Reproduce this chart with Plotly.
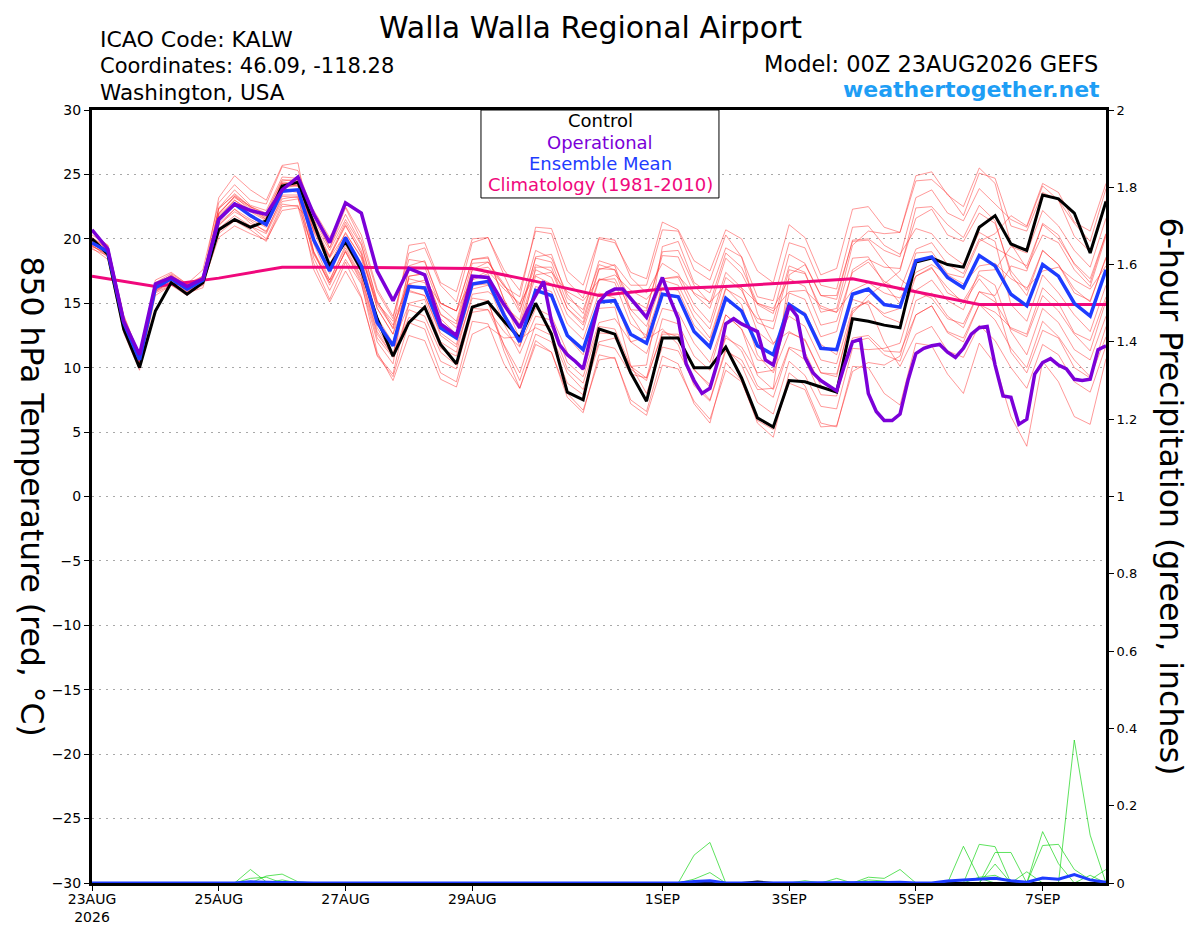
import pandas as pd
import plotly.graph_objects as go

# 6-hourly forecast times, 23AUG2026 00Z -> 08SEP2026 00Z
times = pd.date_range("2026-08-23 00:00", periods=65, freq="6h")

# operational run: 6-hourly to 162 h, then 3-hourly
op_hours = list(range(0, 162, 6)) + list(range(162, 385, 3))
op_times = pd.Timestamp("2026-08-23 00:00") + pd.to_timedelta(op_hours, unit="h")

clim_days = pd.date_range("2026-08-23", periods=17, freq="D")

# 850 hPa temperature (C)
control = [20.0, 18.8, 13.0, 10.0, 14.4, 16.6, 15.7, 16.6, 20.7, 21.5, 20.9, 21.4, 24.1, 24.4, 21.2, 17.9,
           19.8, 17.6, 13.8, 10.9, 13.5, 14.7, 11.8, 10.3, 14.7, 15.1, 13.6, 12.3, 15.0, 12.6, 8.1, 7.5,
           13.0, 12.6, 9.6, 7.4, 12.3, 12.3, 10.0, 10.0, 11.6, 9.2, 6.1, 5.4, 9.0, 8.9, 8.5, 8.1,
           13.8, 13.6, 13.3, 13.1, 18.2, 18.5, 18.0, 17.8, 20.9, 21.8, 19.6, 19.1, 23.4, 23.1, 22.0, 18.9, 22.9]

ens_mean = [19.7, 19.0, 13.5, 10.6, 16.2, 16.9, 16.1, 16.8, 21.5, 22.7, 21.8, 21.1, 23.7, 23.8, 19.9, 17.5,
            20.1, 17.9, 13.5, 11.7, 16.3, 16.2, 13.1, 12.3, 16.5, 16.7, 14.1, 12.0, 16.0, 15.6, 12.5, 11.4,
            15.1, 15.2, 12.6, 11.9, 15.7, 15.5, 12.8, 11.6, 15.4, 14.4, 11.7, 11.0, 14.9, 14.1, 11.5, 11.4,
            15.7, 16.1, 14.9, 14.7, 18.3, 18.6, 17.0, 16.2, 18.7, 17.9, 15.7, 14.8, 18.0, 17.1, 15.0, 14.0, 17.6]

operational = [20.7, 19.2, 13.6, 11.0, 16.5, 17.0, 16.3, 16.9, 21.5, 22.7, 22.2, 21.9, 23.8, 24.8, 21.9, 19.7,
               22.8, 22.0, 17.5, 15.2, 17.7, 17.2, 13.4, 12.5, 17.1, 17.0, 14.9,
               13.1, 14.5, 15.6, 16.7, 13.6, 11.8, 11.0, 10.5, 9.9, 12.5, 15.1, 15.8, 16.1, 16.1, 15.4, 14.6,
               13.9, 15.5, 17.0, 15.3, 13.8, 10.3, 9.0, 8.0, 8.4, 10.5, 13.4, 13.8, 13.4, 13.1, 12.8, 10.6,
               10.2, 12.5, 14.8, 14.0, 10.8, 9.6, 9.0, 8.6, 8.2, 10.2, 12.0, 12.2, 8.0, 6.6, 5.9, 5.9,
               6.4, 9.0, 11.1, 11.5, 11.7, 11.8, 11.2, 10.8, 11.5, 12.6, 13.1, 13.2, 10.2, 7.8, 7.7, 5.6,
               6.0, 9.5, 10.4, 10.7, 10.2, 9.9, 9.1, 9.0, 9.1, 11.4, 11.7]

climatology = [17.1, 16.3, 16.95, 17.8, 17.8, 17.75, 17.7, 16.7, 15.6, 16.1, 16.3, 16.6, 16.9, 15.9, 14.9, 14.9, 14.9]

m01 = [20.5, 19.5, 14.1, 10.9, 16.8, 17.4, 16.5, 17.6, 22.8, 24.2, 23.0, 22.7, 25.6, 25.3, 21.9, 19.3,
       22.4, 19.9, 15.9, 13.8, 18.9, 19.3, 16.4, 15.1, 19.7, 20.1, 17.6, 16.0, 20.6, 20.4, 16.7, 15.4,
       20.0, 19.7, 17.4, 16.9, 21.3, 20.7, 18.3, 17.5, 20.7, 20.0, 17.5, 16.6, 21.1, 20.1, 17.2, 17.7,
       22.3, 22.5, 20.9, 20.5, 24.5, 24.6, 23.5, 21.8, 25.1, 24.7, 21.0, 20.6, 23.6, 23.0, 20.2, 19.0, 23.0]
m02 = [19.3, 18.4, 12.7, 9.8, 15.6, 16.4, 15.8, 16.2, 20.6, 21.5, 21.0, 20.0, 22.7, 22.5, 18.1, 15.3,
       18.2, 15.5, 10.9, 9.3, 13.5, 13.0, 9.6, 8.9, 13.6, 13.4, 10.3, 8.4, 12.1, 11.2, 7.7, 6.5,
       11.0, 10.7, 7.5, 6.6, 10.9, 10.3, 7.2, 5.7, 10.4, 9.0, 5.7, 4.6, 9.6, 8.6, 5.7, 5.4,
       10.1, 10.0, 8.0, 7.1, 11.9, 11.7, 9.5, 8.0, 11.9, 10.3, 6.2, 3.9, 10.5, 8.9, 6.2, 5.6, 10.7]
m03 = [20.1, 19.2, 13.9, 10.8, 16.6, 17.1, 16.5, 17.0, 22.4, 23.4, 22.5, 22.0, 24.6, 24.5, 20.8, 18.6,
       21.0, 18.9, 14.6, 12.6, 17.6, 17.8, 14.7, 13.6, 18.1, 18.2, 16.5, 14.3, 18.5, 18.2, 15.0, 13.8,
       17.7, 17.6, 15.3, 14.6, 18.7, 18.6, 15.7, 14.6, 18.5, 17.3, 14.9, 14.2, 18.8, 18.1, 15.6, 15.3,
       19.9, 20.0, 19.1, 18.6, 23.2, 23.8, 22.0, 21.4, 23.9, 22.7, 21.5, 20.9, 24.1, 23.0, 21.2, 19.8, 23.9]
m04 = [19.5, 18.6, 13.1, 10.1, 15.9, 16.7, 15.7, 16.4, 21.1, 22.1, 21.4, 20.5, 23.3, 23.2, 18.8, 16.6,
       19.0, 16.8, 12.3, 10.8, 14.5, 14.0, 11.2, 10.2, 14.6, 14.5, 11.8, 9.6, 13.4, 13.2, 9.9, 8.8,
       12.7, 12.6, 9.9, 9.0, 12.8, 12.4, 9.9, 8.5, 12.5, 11.3, 8.6, 7.7, 11.5, 10.6, 7.9, 7.8,
       12.3, 12.5, 11.3, 11.2, 14.1, 14.8, 12.8, 12.3, 14.9, 13.7, 11.5, 10.0, 13.6, 12.4, 10.6, 9.3, 13.2]
m05 = [19.9, 18.9, 13.6, 10.4, 16.0, 17.0, 16.3, 16.7, 21.9, 23.3, 22.2, 21.7, 24.3, 24.1, 22.2, 20.1,
       22.5, 20.3, 16.1, 14.0, 18.4, 18.2, 15.0, 14.4, 18.4, 18.6, 15.3, 13.2, 17.1, 16.5, 13.4, 12.2,
       15.8, 15.4, 12.0, 11.1, 14.6, 14.3, 11.9, 10.4, 14.1, 13.0, 9.4, 8.3, 11.6, 11.2, 8.6, 8.1,
       12.0, 12.3, 11.0, 10.5, 14.1, 14.8, 12.7, 12.0, 14.9, 14.3, 13.1, 12.6, 16.2, 15.0, 12.7, 12.1, 15.5]
m06 = [20.0, 19.2, 13.8, 10.7, 16.5, 17.0, 16.4, 16.9, 21.0, 22.3, 21.2, 20.6, 23.1, 23.3, 17.6, 15.1,
       17.5, 15.4, 11.0, 9.5, 15.0, 15.3, 12.0, 11.2, 15.7, 15.9, 15.0, 13.4, 17.6, 17.0, 14.1, 12.9,
       16.8, 16.9, 14.5, 14.4, 19.0, 19.1, 16.4, 15.0, 18.9, 17.8, 15.0, 14.6, 16.9, 16.3, 13.3, 13.6,
       17.4, 18.2, 16.7, 16.0, 19.2, 19.7, 18.0, 17.3, 20.0, 19.3, 18.6, 17.9, 21.1, 20.0, 18.1, 16.9, 20.4]
m07 = [19.4, 18.9, 13.2, 10.4, 16.0, 16.6, 15.9, 16.6, 22.4, 23.8, 22.6, 22.2, 24.8, 24.7, 20.5, 18.0,
       20.5, 18.5, 13.9, 11.9, 14.9, 14.6, 11.5, 10.9, 14.8, 15.1, 11.7, 9.0, 12.6, 12.0, 8.8, 7.9,
       11.8, 11.5, 9.5, 9.2, 13.8, 13.4, 10.9, 9.8, 14.1, 13.0, 10.6, 10.4, 15.8, 15.3, 12.4, 12.8,
       17.6, 18.4, 17.8, 17.7, 21.6, 22.3, 20.3, 19.8, 22.0, 21.2, 17.5, 16.0, 19.1, 18.0, 15.8, 15.2, 18.5]
m08 = [20.3, 19.5, 14.0, 11.0, 16.6, 17.3, 16.5, 17.1, 21.4, 22.8, 21.7, 21.0, 23.8, 23.6, 18.5, 16.0,
       18.4, 16.5, 12.0, 10.3, 17.1, 17.3, 14.2, 13.1, 17.6, 17.8, 16.4, 14.8, 19.1, 18.5, 15.7, 14.2,
       18.3, 17.9, 14.5, 13.2, 16.8, 16.4, 13.9, 12.3, 16.2, 14.9, 11.0, 9.6, 12.7, 12.2, 9.6, 9.3,
       14.4, 15.2, 14.0, 13.5, 17.1, 17.8, 15.8, 15.2, 17.2, 16.4, 12.8, 11.0, 14.6, 13.5, 11.4, 10.6, 14.0]
m09 = [19.2, 18.7, 13.0, 10.2, 15.8, 16.4, 15.6, 16.5, 20.1, 21.0, 20.4, 19.9, 22.2, 22.4, 21.2, 19.1,
       21.5, 19.5, 15.2, 13.0, 16.9, 16.6, 13.8, 12.6, 16.8, 17.3, 14.4, 11.7, 14.6, 14.0, 11.2, 9.8,
       13.5, 13.8, 12.0, 12.4, 19.4, 19.8, 16.6, 15.8, 19.3, 18.6, 15.5, 15.2, 19.7, 19.3, 16.4, 16.1,
       20.9, 21.0, 19.5, 18.8, 20.8, 20.4, 18.9, 18.0, 20.5, 19.8, 14.9, 13.6, 17.2, 15.8, 14.1, 12.8, 16.4]
m10 = [19.9, 19.1, 13.6, 10.8, 16.3, 17.1, 16.2, 16.9, 23.2, 24.9, 23.8, 23.0, 25.7, 25.9, 19.6, 16.8,
       19.5, 17.4, 13.1, 11.0, 13.9, 13.5, 10.5, 9.9, 14.3, 14.5, 12.8, 11.6, 16.3, 15.9, 12.4, 11.0,
       14.6, 14.7, 10.2, 8.0, 11.6, 11.3, 8.9, 7.5, 11.5, 10.2, 7.3, 6.4, 10.5, 9.4, 7.0, 6.8,
       11.5, 11.4, 11.5, 11.9, 16.0, 16.8, 15.2, 14.5, 17.5, 17.6, 19.4, 18.9, 22.2, 21.0, 19.1, 17.8, 21.6]
m11 = [19.6, 18.9, 13.4, 10.5, 16.1, 16.8, 16.0, 16.7, 21.8, 23.0, 22.1, 21.4, 24.0, 24.1, 21.1, 18.7,
       21.3, 19.1, 14.9, 13.1, 19.5, 19.7, 16.6, 15.9, 20.0, 20.1, 17.2, 14.5, 18.0, 17.5, 14.6, 13.3,
       16.9, 16.6, 13.4, 12.5, 16.2, 16.0, 13.3, 12.0, 16.1, 15.4, 13.8, 13.6, 17.9, 17.4, 14.3, 14.6,
       19.5, 20.6, 20.4, 20.5, 24.9, 25.2, 23.4, 22.5, 25.5, 24.3, 19.6, 17.7, 20.3, 19.7, 17.6, 16.3, 20.2]
m12 = [20.1, 19.3, 13.8, 10.9, 16.4, 17.2, 16.4, 17.1, 20.4, 21.4, 20.7, 19.8, 22.5, 22.6, 19.0, 16.8,
       19.3, 17.1, 12.8, 10.9, 16.5, 16.0, 13.0, 12.4, 16.4, 16.5, 13.4, 11.1, 14.0, 13.7, 10.4, 9.3,
       13.2, 13.0, 10.1, 9.2, 12.6, 12.6, 9.8, 8.7, 12.3, 11.6, 9.6, 9.8, 14.5, 14.3, 11.8, 11.0,
       15.3, 14.9, 12.0, 10.1, 12.6, 13.2, 11.3, 10.8, 13.3, 12.1, 10.0, 8.4, 11.8, 11.0, 8.9, 8.1, 11.7]
m13 = [19.4, 18.8, 13.2, 10.2, 15.9, 16.5, 15.8, 16.6, 22.3, 23.5, 22.5, 21.9, 24.5, 24.6, 20.0, 17.3,
       20.2, 18.0, 13.4, 11.9, 17.1, 17.3, 14.1, 13.4, 17.6, 18.2, 16.3, 15.5, 20.9, 20.8, 17.5, 16.4,
       20.1, 19.9, 17.0, 15.8, 18.1, 17.3, 14.9, 13.5, 17.4, 16.2, 12.8, 11.8, 14.0, 13.2, 10.6, 10.3,
       14.6, 15.1, 14.2, 14.6, 18.9, 19.0, 17.3, 17.0, 19.8, 20.4, 21.8, 21.0, 24.3, 23.6, 21.3, 20.6, 24.3]
m14 = [19.8, 19.0, 13.5, 10.5, 16.1, 16.9, 16.2, 16.7, 21.2, 22.3, 21.5, 20.9, 23.4, 23.4, 21.5, 19.3,
       21.9, 19.6, 15.1, 13.3, 16.0, 15.6, 12.5, 11.6, 15.4, 15.2, 11.3, 8.4, 11.8, 11.2, 8.0, 6.7,
       10.6, 10.8, 7.2, 6.3, 10.2, 9.9, 7.4, 6.0, 9.8, 8.9, 5.9, 5.2, 8.8, 8.3, 5.4, 5.5,
       9.7, 10.4, 10.2, 10.9, 15.2, 15.8, 14.0, 13.1, 15.9, 15.1, 13.0, 12.4, 15.6, 14.4, 12.6, 11.3, 15.2]
m15 = [19.9, 19.1, 13.4, 10.9, 16.3, 17.2, 16.2, 17.0, 20.8, 21.8, 21.0, 20.4, 22.9, 23.1, 20.7, 18.6,
       21.1, 18.8, 14.6, 12.6, 15.9, 15.6, 12.7, 11.8, 16.1, 16.4, 14.8, 13.7, 18.6, 18.8, 15.4, 14.5,
       18.0, 17.6, 14.1, 12.2, 13.0, 11.8, 8.6, 7.4, 11.3, 10.6, 8.3, 8.4, 17.2, 18.0, 15.6, 15.6,
       19.8, 19.9, 18.2, 16.9, 15.9, 15.4, 13.8, 13.4, 15.9, 15.6, 17.9, 17.5, 21.2, 20.3, 18.0, 16.6, 20.4]
m16 = [19.6, 18.9, 13.7, 10.7, 16.2, 16.8, 16.3, 16.9, 21.7, 23.0, 22.2, 21.5, 24.0, 24.2, 20.6, 18.5,
       20.4, 18.6, 15.0, 13.6, 16.5, 16.8, 15.0, 14.4, 16.9, 17.5, 16.1, 15.0, 17.2, 17.4, 15.9, 15.2,
       16.8, 17.2, 16.0, 15.3, 16.9, 17.1, 15.8, 15.1, 16.4, 16.2, 15.0, 14.4, 15.9, 16.0, 14.8, 14.3,
       16.0, 16.6, 15.8, 15.4, 17.4, 18.0, 17.2, 16.5, 17.9, 18.1, 16.9, 16.2, 17.5, 17.8, 16.8, 16.1, 17.9]
m17 = [19.5, 18.7, 13.3, 10.3, 16.0, 16.7, 15.9, 16.7, 22.0, 23.3, 22.5, 21.6, 24.4, 24.3, 19.0, 16.4,
       19.1, 17.0, 12.6, 10.9, 17.9, 18.3, 15.0, 14.4, 18.4, 18.5, 15.3, 12.2, 13.1, 12.5, 9.6, 8.3,
       12.0, 12.3, 10.1, 10.2, 16.9, 17.0, 14.4, 13.0, 17.0, 16.0, 13.5, 13.0, 17.6, 17.3, 14.6, 14.3,
       18.5, 18.6, 16.5, 15.0, 17.1, 17.7, 16.2, 15.0, 16.9, 15.4, 11.2, 9.6, 12.9, 12.3, 10.0, 9.2, 12.4]
m18 = [19.8, 19.1, 13.7, 10.6, 16.4, 16.9, 16.1, 16.9, 22.0, 23.2, 22.4, 21.5, 24.3, 24.2, 18.9, 16.6,
       19.0, 16.6, 11.2, 9.0, 12.5, 12.1, 9.1, 8.5, 12.6, 13.2, 12.3, 12.4, 17.8, 17.8, 14.6, 13.5,
       17.6, 18.0, 16.4, 16.4, 20.7, 20.6, 17.6, 16.8, 20.3, 18.6, 14.2, 11.9, 12.8, 12.1, 9.6, 9.5,
       14.2, 15.6, 16.5, 17.5, 22.4, 22.5, 21.1, 20.1, 22.6, 21.4, 17.2, 15.6, 19.1, 18.0, 16.1, 15.1, 18.6]
members = [m01, m02, m03, m04, m05, m06, m07, m08, m09, m10, m11, m12, m13, m14, m15, m16, m17, m18]

# 6-hour precipitation (inches)
p01 = [0, 0, 0, 0, 0, 0, 0, 0, 0, 0, 0.035, 0.003, 0, 0, 0, 0, 0, 0, 0, 0, 0, 0, 0, 0, 0, 0, 0, 0, 0, 0, 0, 0,
       0, 0, 0, 0, 0, 0, 0.072, 0.105, 0, 0, 0, 0, 0, 0, 0, 0, 0, 0, 0, 0, 0, 0, 0, 0, 0, 0, 0, 0, 0, 0, 0.37, 0.124, 0]
p02 = [0, 0, 0, 0, 0, 0, 0, 0, 0, 0, 0, 0.018, 0.023, 0.003, 0, 0, 0, 0, 0, 0, 0, 0, 0, 0, 0, 0, 0, 0, 0, 0, 0, 0,
       0, 0, 0, 0, 0, 0, 0.01, 0.027, 0, 0, 0, 0, 0, 0, 0, 0, 0, 0, 0, 0, 0, 0, 0, 0, 0.10, 0.094, 0, 0, 0, 0, 0, 0, 0]
p03 = [0, 0, 0, 0, 0, 0, 0, 0, 0, 0, 0.012, 0.015, 0, 0, 0, 0, 0, 0, 0, 0, 0, 0, 0, 0, 0, 0, 0, 0, 0, 0, 0, 0,
       0, 0, 0, 0, 0, 0, 0, 0, 0, 0, 0, 0, 0, 0, 0, 0, 0, 0.015, 0.012, 0.035, 0, 0, 0, 0, 0, 0.079, 0.079, 0, 0.133, 0.05, 0, 0, 0]
p04 = [0, 0, 0, 0, 0, 0, 0, 0, 0, 0, 0, 0, 0, 0, 0, 0, 0, 0, 0, 0, 0, 0, 0, 0, 0, 0, 0, 0, 0, 0, 0, 0,
       0, 0, 0, 0, 0, 0, 0, 0, 0, 0, 0, 0, 0, 0, 0, 0.012, 0, 0, 0, 0, 0, 0, 0, 0.095, 0.012, 0, 0, 0, 0.097, 0.10, 0.035, 0.008, 0.035]
p05 = [0, 0, 0, 0, 0, 0, 0, 0, 0, 0, 0, 0, 0, 0, 0, 0, 0, 0, 0, 0, 0, 0, 0, 0, 0, 0, 0, 0, 0, 0, 0, 0,
       0, 0, 0, 0, 0, 0, 0, 0, 0, 0, 0, 0, 0, 0.006, 0, 0, 0, 0.008, 0.005, 0, 0, 0, 0, 0, 0, 0.049, 0, 0.029, 0, 0, 0, 0, 0]
p06 = [0, 0, 0, 0, 0, 0, 0, 0, 0, 0, 0, 0, 0.008, 0, 0, 0, 0, 0, 0, 0, 0, 0, 0, 0, 0, 0, 0, 0, 0, 0, 0, 0,
       0, 0, 0, 0, 0, 0, 0, 0, 0, 0, 0.003, 0, 0, 0, 0, 0, 0, 0, 0, 0, 0, 0, 0, 0, 0.015, 0.02, 0, 0, 0, 0, 0, 0.02, 0]
precip_members = [p01, p02, p03, p04, p05, p06]
precip_mean = [0, 0, 0, 0, 0, 0, 0, 0, 0, 0, 0.003, 0.002, 0.001, 0, 0, 0, 0, 0, 0, 0, 0, 0, 0, 0, 0, 0, 0, 0, 0, 0, 0, 0,
               0, 0, 0, 0, 0, 0, 0.004, 0.006, 0, 0, 0, 0, 0, 0, 0, 0.001, 0, 0.001, 0.001, 0.002, 0, 0, 0.005, 0.008,
               0.01, 0.012, 0.006, 0.002, 0.013, 0.01, 0.022, 0.008, 0.002]
precip_control = [0, 0, 0, 0, 0, 0, 0, 0, 0, 0, 0, 0, 0, 0, 0, 0, 0, 0, 0, 0, 0, 0, 0, 0, 0, 0, 0, 0, 0, 0, 0, 0,
                  0, 0, 0, 0, 0, 0, 0, 0, 0, 0, 0.004, 0, 0, 0, 0, 0, 0, 0, 0, 0, 0, 0, 0, 0, 0, 0, 0, 0, 0, 0, 0, 0, 0]

tick_vals = ["2026-08-23", "2026-08-25", "2026-08-27", "2026-08-29", "2026-09-01", "2026-09-03", "2026-09-05", "2026-09-07"]
tick_text = ["23AUG<br>2026", "25AUG", "27AUG", "29AUG", "1SEP", "3SEP", "5SEP", "7SEP"]

RED = "rgba(255,40,40,0.6)"
GREEN = "rgba(30,215,30,0.8)"
PURPLE = "#7B00D8"
BLUE = "#1E3CFF"
PINK = "#F0087C"

fig = go.Figure()

for m in members:
    fig.add_trace(go.Scatter(x=times, y=m, mode="lines", line=dict(color=RED, width=0.8), hoverinfo="skip"))

for p in precip_members:
    fig.add_trace(go.Scatter(x=times, y=p, mode="lines", line=dict(color=GREEN, width=0.9), yaxis="y2", hoverinfo="skip"))
fig.add_trace(go.Scatter(x=times, y=precip_control, mode="lines", line=dict(color="black", width=2), yaxis="y2"))
fig.add_trace(go.Scatter(x=times, y=precip_mean, mode="lines", line=dict(color=BLUE, width=3), yaxis="y2"))

fig.add_trace(go.Scatter(x=clim_days, y=climatology, mode="lines", line=dict(color=PINK, width=3), name="Climatology"))
fig.add_trace(go.Scatter(x=times, y=control, mode="lines", line=dict(color="black", width=3), name="Control"))
fig.add_trace(go.Scatter(x=times, y=ens_mean, mode="lines", line=dict(color=BLUE, width=3.5), name="Ensemble Mean"))
fig.add_trace(go.Scatter(x=op_times, y=operational, mode="lines", line=dict(color=PURPLE, width=3.5), name="Operational"))

fnt = "DejaVu Sans, Liberation Sans, Arial, sans-serif"

# page has an 8px body margin, so the figure is trimmed by 8px on the left/top
fig.update_layout(
    width=1192, height=919,
    margin=dict(l=84, r=94, t=102, b=44),
    plot_bgcolor="white", paper_bgcolor="white",
    showlegend=False,
    font=dict(family=fnt, color="black"),
    xaxis=dict(type="date", range=["2026-08-23 00:00", "2026-09-08 00:00"],
               tickvals=tick_vals, ticktext=tick_text, tickfont=dict(size=14),
               ticks="outside", ticklen=5, tickcolor="black", automargin=False,
               ticklabelstandoff=-4,
               showline=True, linewidth=3, linecolor="black", mirror=True,
               showgrid=False, zeroline=False),
    yaxis=dict(range=[-30, 30], tick0=-30, dtick=5, tickfont=dict(size=14),
               ticks="outside", ticklen=5, tickcolor="black", automargin=False,
               showline=True, linewidth=3, linecolor="black",
               showgrid=True, gridcolor="#A8A8A8", griddash="2px,5px", gridwidth=1,
               zeroline=False),
    yaxis2=dict(range=[0, 2], tick0=0, dtick=0.2, overlaying="y", side="right",
                tickfont=dict(size=13), ticks="outside", ticklen=5, tickcolor="black",
                automargin=False, showline=True, linewidth=3, linecolor="black",
                showgrid=False, zeroline=False),
)

# legend box
fig.add_shape(type="rect", xref="paper", yref="paper", x0=0.3836, x1=0.6183, y0=0.8862, y1=1.0,
              line=dict(color="black", width=1), fillcolor="white", layer="above")
legend_rows = [("Control", "black", 0.9858), ("Operational", PURPLE, 0.9586),
               ("Ensemble Mean", BLUE, 0.9314), ("Climatology (1981-2010)", PINK, 0.9030)]
for txt, col, yy in legend_rows:
    fig.add_annotation(text=txt, xref="paper", yref="paper", x=0.501, y=yy,
                       xanchor="center", yanchor="middle", showarrow=False,
                       font=dict(size=18, color=col))

fig.add_annotation(text="Walla Walla Regional Airport", xref="paper", yref="paper", x=0.492, y=1.131,
                   xanchor="center", yanchor="top", showarrow=False, font=dict(size=30), borderpad=0)
for txt, yy, sz in [("ICAO Code: KALW", 1.0906, 22), ("Coordinates: 46.09, -118.28", 1.0569, 21),
                    ("Washington, USA", 1.022, 21.5)]:
    fig.add_annotation(text=txt, xref="paper", yref="paper", x=0.0059, y=yy,
                       xanchor="left", yanchor="middle", showarrow=False, font=dict(size=sz))
fig.add_annotation(text="Model: 00Z 23AUG2026 GEFS", xref="paper", yref="paper", x=0.994, y=1.0595,
                   xanchor="right", yanchor="middle", showarrow=False, font=dict(size=22.5))
fig.add_annotation(text="<b>weathertogether.net</b>", xref="paper", yref="paper", x=0.996, y=1.0259,
                   xanchor="right", yanchor="middle", showarrow=False, font=dict(size=22, color="#1E9EF5"))

fig.add_annotation(text="850 hPa Temperature (red, °C)", xref="paper", yref="paper", x=-0.059, y=0.5,
                   xanchor="center", yanchor="middle", textangle=90, showarrow=False, font=dict(size=31.5))
fig.add_annotation(text="6-hour Precipitation (green, inches)", xref="paper", yref="paper", x=1.065, y=0.5,
                   xanchor="center", yanchor="middle", textangle=90, showarrow=False, font=dict(size=31.5))

fig.write_html("out.html")
